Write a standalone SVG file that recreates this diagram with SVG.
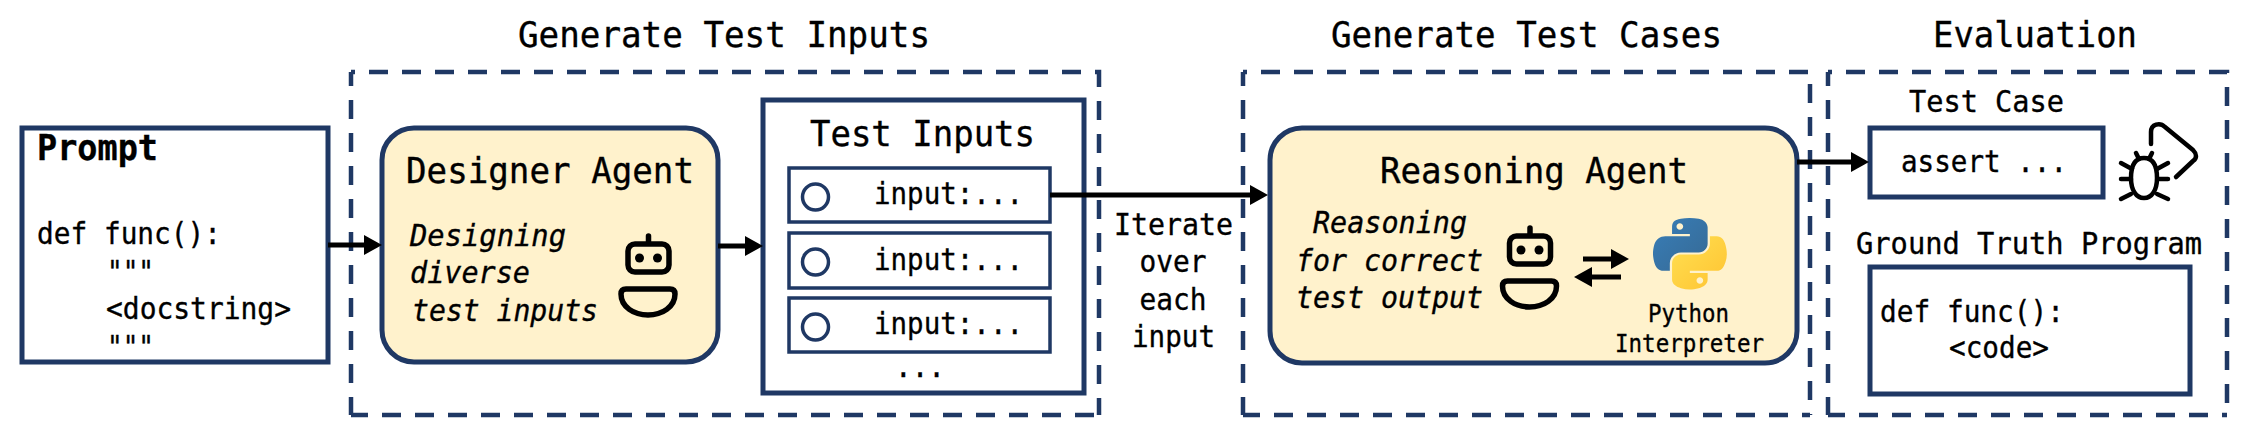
<svg xmlns="http://www.w3.org/2000/svg" width="2249" height="440" viewBox="0 0 2249 440">
<style>
text{font-family:"DejaVu Sans Mono","Liberation Mono",monospace;fill:#000;stroke:#000;stroke-width:.35}
.t{font-size:35px}.c{font-size:29.5px}.i{font-size:29.5px;font-style:italic}.s{font-size:24px}
.box{fill:#fff;stroke:#1F3864;stroke-width:5}
.sub{fill:#fff;stroke:#1F3864;stroke-width:3.5}
.agent{fill:#FFF2CC;stroke:#1F3864;stroke-width:5}
.dot{fill:#fff;stroke:#1F3864;stroke-width:3.5}
.fr{fill:none;stroke:#1F3864;stroke-width:4.5;stroke-dasharray:19 14}
.ico{fill:none;stroke:#000;stroke-width:5.5;stroke-linecap:round;stroke-linejoin:round}
.bug{fill:none;stroke:#000;stroke-width:4.5;stroke-linecap:round;stroke-linejoin:round}
.ar{fill:none;stroke:#000;stroke-width:5;marker-end:url(#h)}
</style>
<defs>
<marker id="h" markerUnits="userSpaceOnUse" markerWidth="20" markerHeight="22" refX="0" refY="10" orient="auto"><path d="M0 0L18 10L0 20Z" fill="#000"/></marker>
<linearGradient id="pb" x1="0" y1="0" x2="1" y2="1"><stop offset="0" stop-color="#387EB8"/><stop offset="1" stop-color="#366994"/></linearGradient>
<linearGradient id="py" x1="0" y1="0" x2="1" y2="1"><stop offset="0" stop-color="#FFE052"/><stop offset="1" stop-color="#FFC331"/></linearGradient>
<g id="robot">
<rect x="628" y="244" width="41" height="28" rx="7" class="ico"/>
<path d="M648.5 236V242" class="ico"/>
<circle cx="639.5" cy="258" r="4.5"/><circle cx="657.5" cy="258" r="4.5"/>
<path d="M626 289H670Q675 289 675 294C675 307 662 315 648 315C634 315 621 307 621 294Q621 289 626 289Z" class="ico"/>
</g>
</defs>

<g id="frame-inputs">
<path class="fr" stroke-dashoffset="15" d="M351 72H1099V415"/><path class="fr" stroke-dashoffset="5" d="M351 72V415"/><path class="fr" stroke-dashoffset="2" d="M351 415H1099"/>
<text class="t" x="518" y="47" textLength="412" lengthAdjust="spacingAndGlyphs">Generate Test Inputs</text>
</g>
<g id="frame-cases">
<path class="fr" stroke-dashoffset="15" d="M1243 72H1810V415"/><path class="fr" stroke-dashoffset="5" d="M1243 72V415"/><path class="fr" stroke-dashoffset="2" d="M1243 415H1810"/>
<text class="t" x="1331" y="47" textLength="391" lengthAdjust="spacingAndGlyphs">Generate Test Cases</text>
</g>
<g id="frame-eval">
<path class="fr" stroke-dashoffset="15" d="M1828 72H2227V415"/><path class="fr" stroke-dashoffset="5" d="M1828 72V415"/><path class="fr" stroke-dashoffset="2" d="M1828 415H2227"/>
<text class="t" x="1933" y="47" textLength="204" lengthAdjust="spacingAndGlyphs">Evaluation</text>
</g>

<g id="prompt">
<rect class="box" x="22" y="128" width="306" height="234"/>
<text class="t" x="37" y="160" font-weight="700" textLength="121" lengthAdjust="spacingAndGlyphs">Prompt</text>
<text class="c" x="37" y="244" textLength="184" lengthAdjust="spacingAndGlyphs">def func():</text>
<text class="c" x="107" y="282" textLength="47" lengthAdjust="spacingAndGlyphs">"""</text>
<text class="c" x="106" y="319" textLength="185" lengthAdjust="spacingAndGlyphs">&lt;docstring&gt;</text>
<text class="c" x="107" y="357" textLength="47" lengthAdjust="spacingAndGlyphs">"""</text>
</g>

<g id="designer">
<rect class="agent" x="382" y="128" width="336" height="234" rx="32"/>
<text class="t" x="406" y="183" textLength="288" lengthAdjust="spacingAndGlyphs">Designer Agent</text>
<text class="i" x="410" y="246" textLength="156" lengthAdjust="spacingAndGlyphs">Designing</text>
<text class="i" x="410" y="283" textLength="120" lengthAdjust="spacingAndGlyphs">diverse</text>
<text class="i" x="412" y="321" textLength="186" lengthAdjust="spacingAndGlyphs">test inputs</text>
<use href="#robot"/>
</g>

<g id="test-inputs">
<rect class="box" x="763" y="100" width="321" height="293"/>
<text class="t" x="810" y="146" textLength="225" lengthAdjust="spacingAndGlyphs">Test Inputs</text>
<rect class="sub" x="789" y="168" width="261" height="54"/>
<circle class="dot" cx="815.5" cy="197" r="13"/>
<text class="c" x="874" y="204" textLength="149" lengthAdjust="spacingAndGlyphs">input:...</text>
<rect class="sub" x="789" y="233" width="261" height="55"/>
<circle class="dot" cx="815.5" cy="262" r="13"/>
<text class="c" x="874" y="270" textLength="149" lengthAdjust="spacingAndGlyphs">input:...</text>
<rect class="sub" x="789" y="298" width="261" height="54"/>
<circle class="dot" cx="815.5" cy="327" r="13"/>
<text class="c" x="874" y="334" textLength="149" lengthAdjust="spacingAndGlyphs">input:...</text>
<text class="c" x="895" y="377" textLength="50" lengthAdjust="spacingAndGlyphs">...</text>
</g>

<g id="iterate-label">
<text class="c" x="1114" y="235" textLength="119" lengthAdjust="spacingAndGlyphs">Iterate</text>
<text class="c" x="1139.5" y="272" textLength="67" lengthAdjust="spacingAndGlyphs">over</text>
<text class="c" x="1139.5" y="310" textLength="67" lengthAdjust="spacingAndGlyphs">each</text>
<text class="c" x="1132" y="347" textLength="83" lengthAdjust="spacingAndGlyphs">input</text>
</g>

<g id="reasoning">
<rect class="agent" x="1270" y="128" width="527" height="235" rx="32"/>
<text class="t" x="1380" y="183" textLength="308" lengthAdjust="spacingAndGlyphs">Reasoning Agent</text>
<text class="i" x="1313" y="233" textLength="154" lengthAdjust="spacingAndGlyphs">Reasoning</text>
<text class="i" x="1296" y="271" textLength="187" lengthAdjust="spacingAndGlyphs">for correct</text>
<text class="i" x="1296" y="308" textLength="187" lengthAdjust="spacingAndGlyphs">test output</text>
<use href="#robot" transform="translate(881.5,-8)"/>
<path d="M1583 259H1611" stroke="#000" stroke-width="5" marker-end="url(#h)"/>
<path d="M1621 277H1592" stroke="#000" stroke-width="5" marker-end="url(#h)"/>
<g id="python-logo" transform="translate(1653,218) scale(.664,.636)">
<path fill="url(#pb)" d="M54.919 0C50.335.022 45.958.413 42.106 1.095 30.76 3.099 28.7 7.295 28.7 15.032V25.251H55.513V28.657H18.637C10.845 28.657 4.022 33.341 1.887 42.251C-.574 52.464-.683 58.837 1.887 69.501C3.793 77.439 8.345 83.095 16.137 83.095H25.356V70.845C25.356 61.995 33.013 54.189 42.106 54.189H68.887C76.342 54.189 82.293 48.051 82.293 40.564V15.032C82.293 7.766 76.163 2.308 68.887 1.095C64.282.328 59.502-.02 54.919 0ZM40.419 8.22C43.188 8.22 45.45 10.519 45.45 13.345C45.45 16.161 43.188 18.439 40.419 18.439C37.639 18.439 35.387 16.161 35.387 13.345C35.387 10.519 37.639 8.22 40.419 8.22Z"/>
<path fill="url(#py)" d="M85.638 28.657V40.563C85.638 49.794 77.812 57.563 68.888 57.563H42.107C34.771 57.563 28.7 63.842 28.7 71.188V96.719C28.7 103.985 35.019 108.259 42.107 110.344C50.594 112.84 58.733 113.291 68.888 110.344C75.638 108.39 82.294 104.457 82.294 96.719V86.501H55.513V83.095H95.7C103.492 83.095 106.396 77.66 109.106 69.501C111.905 61.102 111.846 53.025 109.106 42.251C107.18 34.494 103.502 28.657 95.7 28.657ZM70.575 93.313C73.355 93.313 75.606 95.591 75.606 98.407C75.606 101.233 73.355 103.532 70.575 103.532C67.806 103.532 65.544 101.233 65.544 98.407C65.544 95.591 67.806 93.313 70.575 93.313Z"/>
</g>
<text class="s" x="1648" y="322" textLength="81" lengthAdjust="spacingAndGlyphs">Python</text>
<text class="s" x="1615" y="352" textLength="149" lengthAdjust="spacingAndGlyphs">Interpreter</text>
</g>

<g id="test-case">
<text class="c" x="1909" y="112" textLength="155" lengthAdjust="spacingAndGlyphs">Test Case</text>
<rect class="box" x="1870" y="128" width="233" height="69"/>
<text class="c" x="1901" y="172" textLength="166" lengthAdjust="spacingAndGlyphs">assert ...</text>
<g id="bug-icon">
<path class="bug" d="M2144 158C2134 158 2131 167 2131 178C2131 190 2136 198 2144 198C2152 198 2157 190 2157 178C2157 167 2154 158 2144 158Z"/>
<path class="bug" d="M2136 153L2139 159M2152 153L2149 159M2121 163L2132 169M2121 179H2131M2121 199L2131 194M2168 163L2157 169M2168 179H2158M2168 199L2157 194"/>
<path class="bug" d="M2151 144V132C2151 124 2160 122 2165 127L2193 150C2197 154 2197 158 2193 161L2176 177"/>
</g>
</g>

<g id="ground-truth">
<text class="c" x="1856" y="254" textLength="346" lengthAdjust="spacingAndGlyphs">Ground Truth Program</text>
<rect class="box" x="1870" y="267" width="320" height="127"/>
<text class="c" x="1880" y="322" textLength="184" lengthAdjust="spacingAndGlyphs">def func():</text>
<text class="c" x="1949" y="358" textLength="100" lengthAdjust="spacingAndGlyphs">&lt;code&gt;</text>
</g>

<g id="connectors">
<path class="ar" d="M328 245H364"/>
<path class="ar" d="M718 246H745"/>
<path class="ar" d="M1050 195H1250"/>
<path class="ar" d="M1797 162H1851"/>
</g>
</svg>
